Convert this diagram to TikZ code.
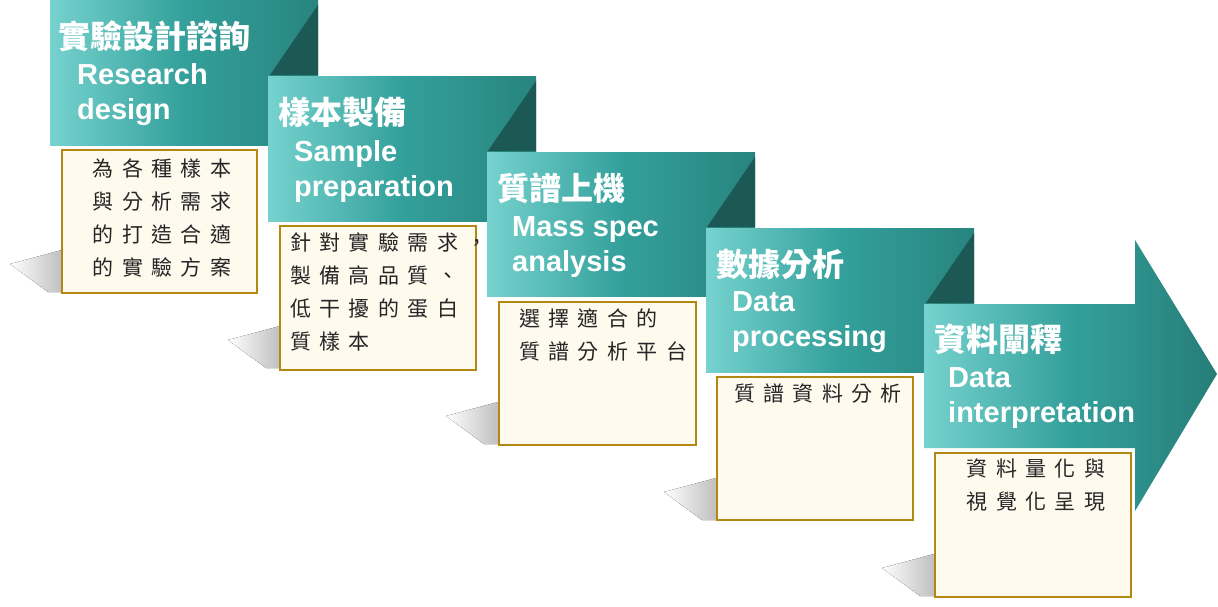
\documentclass[tikz,border=0pt]{standalone}
\usepackage{fontspec}
\setmainfont{Liberation Sans}
\newfontfamily\cjk{Noto Sans CJK TC}
\newfontfamily\cjkbox[LetterSpace=40]{Noto Sans CJK TC}
\definecolor{tlight}{RGB}{118,210,206}
\definecolor{tmid}{RGB}{52,160,155}
\definecolor{tdark}{RGB}{40,132,126}
\definecolor{fold}{RGB}{28,88,84}
\definecolor{boxfill}{RGB}{255,250,238}
\definecolor{boxline}{RGB}{178,136,18}
\tikzset{
  banner/.style={left color=tlight,right color=tdark,middle color=tmid,draw=none},
  foldtri/.style={fill=fold,draw=none},
  descbox/.style={fill=boxfill,draw=boxline,line width=1.6pt},
  zhtitle/.style={anchor=base west,text=white,font=\cjk\bfseries\fontsize{32}{34}\selectfont,inner sep=0pt},
  entitle/.style={anchor=west,text=white,font=\bfseries\fontsize{29}{35}\selectfont,align=left,inner sep=0pt},
  desc/.style={anchor=north,align=center,font=\cjkbox\fontsize{21}{33}\selectfont,inner sep=0pt,text=black!85},
  shadowshape/.style={left color=white,right color=black!25,draw=none}
}
\begin{document}
\begin{tikzpicture}[x=1pt,y=-1pt]
\useasboundingbox (0,0) rectangle (1218,606);
% shadows
\foreach \dx/\dy in {0/0,218/76,436/152,654/228,872/304}{
  \fill[shadowshape] (10+\dx,264+\dy) -- (62+\dx,250+\dy) -- (62+\dx,292+\dy) -- (48+\dx,292+\dy) -- cycle;
}
% step 1
\shade[banner] (50,0) rectangle (318,145);
\fill[foldtri] (270,75) -- (318,5) -- (318,75) -- cycle;
\node[zhtitle] (t1) at (58,48) {實驗設計諮詢};
\node[entitle] (e1) at (77,95) {Research\\design};
\draw[descbox] (62,150) rectangle (257,293);
\node[desc] (d1) at (162,158) {為各種樣本\\與分析需求\\的打造合適\\的實驗方案};
% step 2
\shade[banner] (268,76) rectangle (536,221);
\fill[foldtri] (488,151) -- (536,81) -- (536,151) -- cycle;
\node[zhtitle] (t2) at (278,124) {樣本製備};
\node[entitle] (e2) at (294,171) {Sample\\preparation};
\draw[descbox] (280,226) rectangle (476,370);
\node[desc,anchor=north west,align=left] (d2) at (290,232) {針對實驗需求，\\製備高品質、\\低干擾的蛋白\\質樣本};
% step 3
\shade[banner] (487,152) rectangle (755,296);
\fill[foldtri] (707,227) -- (755,157) -- (755,227) -- cycle;
\node[zhtitle] (t3) at (497,200) {質譜上機};
\node[entitle] (e3) at (512,247) {Mass spec\\analysis};
\draw[descbox] (499,302) rectangle (696,445);
\node[desc,anchor=north west,align=left] (d3) at (519,309) {選擇適合的\\質譜分析平台};
% step 4
\shade[banner] (706,228) rectangle (974,372);
\fill[foldtri] (926,303) -- (974,233) -- (974,303) -- cycle;
\node[zhtitle] (t4) at (716,276) {數據分析};
\node[entitle] (e4) at (732,322) {Data\\processing};
\draw[descbox] (717,377) rectangle (913,520);
\node[desc] (d4) at (818,384) {質譜資料分析};
% step 5 arrow
\shade[left color=tlight,right color=tdark!95!black,middle color=tmid] (924,304) -- (1135,304) -- (1135,240) -- (1217,374) -- (1135,511) -- (1135,448) -- (924,448) -- cycle;
\node[zhtitle] (t5) at (934,351) {資料闡釋};
\node[entitle] (e5) at (948,398) {Data\\interpretation};
\draw[descbox] (935,453) rectangle (1131,597);
\node[desc] (d5) at (1036,459) {資料量化與\\視覺化呈現};
\end{tikzpicture}
\end{document}
